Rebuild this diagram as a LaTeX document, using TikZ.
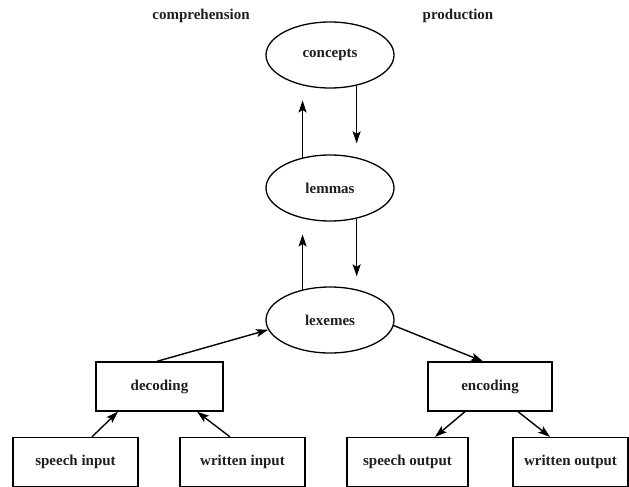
\documentclass[tikz,border=0pt]{standalone}
\usepackage{fontspec}
\setmainfont{Liberation Serif}
\usetikzlibrary{shapes.geometric,arrows.meta}

\tikzset{
  lbl/.style={font=\fontsize{15}{17}\selectfont\bfseries, text=black!88},
  level/.style={ellipse, draw, line width=1.3pt, minimum width=128pt,
    minimum height=66pt, inner sep=0pt, lbl},
  stage/.style={rectangle, draw, line width=1.3pt, minimum height=49pt,
    inner sep=0pt, lbl},
  arr/.style={line width=1.4pt, -{Stealth[length=12pt,width=8pt,inset=2.5pt]}},
}

\begin{document}
\begin{tikzpicture}[x=1pt, y=-1pt]
  \clip (0,0) rectangle (629,487);
  \fill[white] (0,0) rectangle (629,487);

  % column headings
  \node[lbl] (comp) at (201,16) {comprehension};
  \node[lbl] (prod) at (458,16) {production};

  % levels of representation
  \node[level] (concepts) at (330,55)  {concepts};
  \node[level] (lemmas)   at (330,188) {lemmas};
  \node[level] (lexemes)  at (330,320) {lexemes};

  % processing stages
  \node[stage, minimum width=127pt] (decoding) at (159.5,386.5) {decoding};
  \node[stage, minimum width=124pt] (encoding) at (490,386.5)   {encoding};

  % peripheral input and output
  \node[stage, minimum width=125pt] (spin)  at (75.5,462)  {speech input};
  \node[stage, minimum width=125pt] (wrin)  at (242.5,462) {written input};
  \node[stage, minimum width=121pt] (spout) at (407.5,462) {speech output};
  \node[stage, minimum width=115pt] (wrout) at (570.5,462) {written output};

  % vertical links between the levels
  \draw[arr, shorten >=15pt] (lemmas.132)   -- (concepts.228);
  \draw[arr, shorten >=14pt] (concepts.311) -- (lemmas.49);
  \draw[arr, shorten >=16pt] (lexemes.132)  -- (lemmas.228);
  \draw[arr, shorten >=13pt] (lemmas.311)   -- (lexemes.49);

  % comprehension route
  \draw[arr] ([xshift=-2.5pt]decoding.north) -- (lexemes.189);
  \draw[arr] ([xshift=16.5pt]spin.north) -- ([xshift=-41.5pt]decoding.south);
  \draw[arr] ([xshift=-12.5pt]wrin.north) -- ([xshift=37.5pt]decoding.south);

  % production route
  \draw[arr] (lexemes.355) -- ([xshift=-7pt]encoding.north);
  \draw[arr] ([xshift=-25pt]encoding.south) -- ([xshift=27.5pt]spout.north);
  \draw[arr] ([xshift=28pt]encoding.south) -- ([xshift=-20.5pt]wrout.north);
\end{tikzpicture}
\end{document}
